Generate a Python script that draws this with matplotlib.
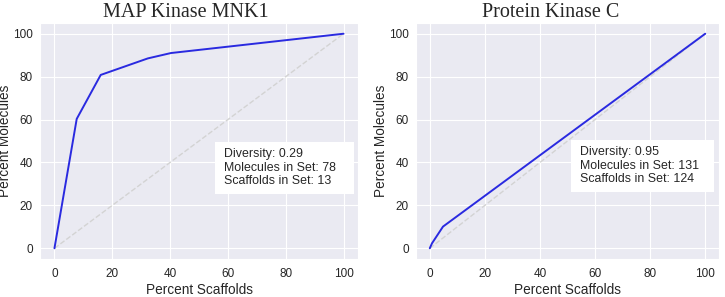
import matplotlib
matplotlib.use("Agg")
import matplotlib.pyplot as plt
from matplotlib.patches import Rectangle
import seaborn as sns

# Scaffold curves (percent scaffolds vs percent molecules)
mnk1_x = [0, 7.7, 16.0, 32.3, 40.3, 100]
mnk1_y = [0, 60.3, 80.8, 88.5, 91.0, 100]
pkc_x = [0, 0.8, 4.8, 100]
pkc_y = [0, 2.3, 10.1, 100]

titles = ["MAP Kinase MNK1", "Protein Kinase C"]
stats = [
    "Diversity: 0.29\nMolecules in Set: 78\nScaffolds in Set: 13",
    "Diversity: 0.95\nMolecules in Set: 131\nScaffolds in Set: 124",
]

sns.set_style("darkgrid")
plt.rcParams["font.family"] = ["Liberation Sans", "DejaVu Sans"]

fig = plt.figure(figsize=(7.25, 2.97), dpi=100)
ax1 = fig.add_axes([40 / 725, 38 / 297, 318 / 725, 236 / 297])
ax2 = fig.add_axes([416 / 725, 38 / 297, 303 / 725, 236 / 297])

# (axis, x, y, title x, box [x0, y0, w, h] in data units, text anchor)
panels = [
    (ax1, mnk1_x, mnk1_y, 0.46, (55.4, 25.2, 48.1, 24.3), (58.6, 37.6)),
    (ax2, pkc_x, pkc_y, 0.445, (51.3, 26.2, 52.0, 24.3), (54.5, 38.5)),
]
for i, (ax, xs, ys, tx, box, anchor) in enumerate(panels):
    ax.plot([0, 100], [0, 100], color="lightgray", linestyle="--", linewidth=1.0)
    ax.plot(xs, ys, color="#2a2ae0", linewidth=1.4)
    ax.set_xlim(-5, 105)
    ax.set_ylim(-5, 105)
    ax.set_xticks([0, 20, 40, 60, 80, 100])
    ax.set_yticks([0, 20, 40, 60, 80, 100])
    ax.tick_params(axis="x", labelsize=8.5, pad=3)
    ax.tick_params(axis="y", labelsize=8.5, pad=1.5)
    ax.set_xlabel("Percent Scaffolds", fontsize=9.8, labelpad=2)
    ax.set_ylabel("Percent Molecules", fontsize=9.8, labelpad=0.5)
    ax.set_title(titles[i], family=["Liberation Serif", "DejaVu Serif"],
                 fontsize=14.5, x=tx, pad=4)
    ax.add_patch(Rectangle((box[0], box[1]), box[2], box[3],
                           facecolor="white", edgecolor="none", zorder=3))
    ax.text(anchor[0], anchor[1], stats[i], fontsize=8.9, va="center",
            ha="left", linespacing=1.2, zorder=4)

plt.savefig("out.png", dpi=100)
plt.close()
